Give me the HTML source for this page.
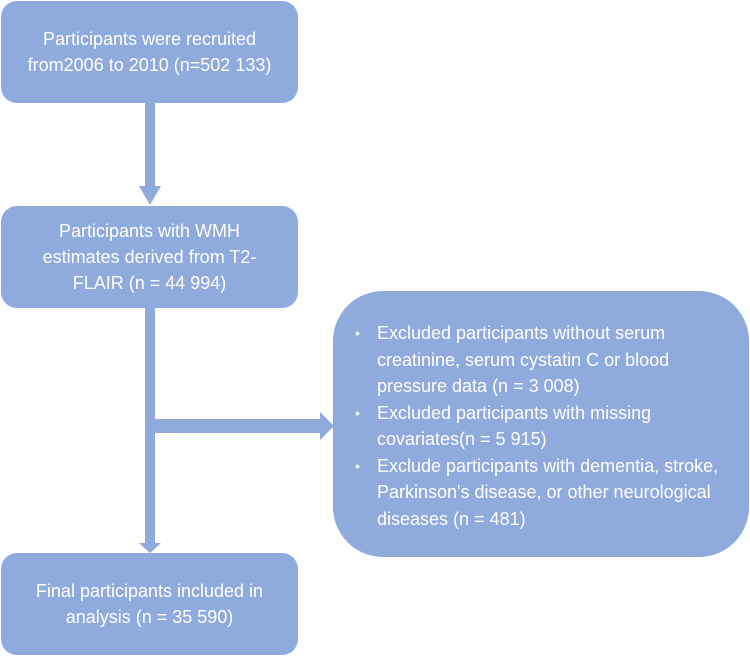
<!DOCTYPE html>
<html><head><style>
body{margin:0;width:750px;height:657px;background:#fff;position:relative;overflow:hidden;font-family:"Liberation Sans",sans-serif;}
.b{position:absolute;background:#8faadc;border-radius:16px;color:#fff;display:flex;align-items:center;justify-content:center;text-align:center;font-size:18px;line-height:26px;}
.r{position:absolute;left:333px;top:291px;width:416px;height:266px;background:#8faadc;border-radius:50px;color:#fff;font-size:18px;line-height:26.5px;}
.r ul{margin:0;padding:0;list-style:none;position:absolute;left:22px;top:29px;width:380px;}
.r li{position:relative;padding-left:22px;}
.r li:before{content:"•";position:absolute;left:0;font-size:14px;}
</style></head><body>
<div class="b" style="left:1px;top:1px;width:297px;height:102px;">Participants were recruited<br>from2006 to 2010 (n=502 133)</div>
<div class="b" style="left:1px;top:206px;width:297px;height:102px;">Participants with WMH<br>estimates derived from T2-<br>FLAIR (n = 44 994)</div>
<div class="b" style="left:1px;top:553px;width:297px;height:102px;">Final participants included in<br>analysis (n = 35 590)</div>
<div class="r"><ul>
<li>Excluded participants without serum creatinine, serum cystatin C or blood pressure data (n = 3 008)</li>
<li>Excluded participants with missing covariates(n = 5 915)</li>
<li>Exclude participants with dementia, stroke, Parkinson's disease, or other neurological diseases (n = 481)</li>
</ul></div>
<svg width="750" height="657" style="position:absolute;left:0;top:0">
<g fill="#8faadc">
<rect x="145" y="103" width="10" height="84"/>
<polygon points="139,186 161,186 150,205"/>
<rect x="145" y="308" width="10" height="237"/>
<polygon points="139,543 161,543 150,553"/>
<rect x="155" y="419" width="166" height="14"/>
<polygon points="320,412 320,440 334,426"/>
</g></svg>
</body></html>
